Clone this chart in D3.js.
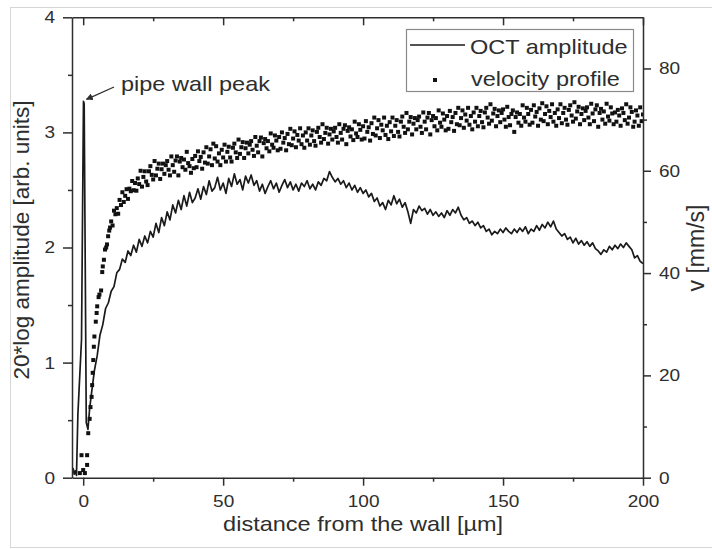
<!DOCTYPE html>
<html>
<head>
<meta charset="utf-8">
<script src="https://cdn.jsdelivr.net/npm/d3@7"></script>
<style>
  body { margin: 0; background: #fff; }
  svg { display: block; }
  text { font-family: "Liberation Sans", Arial, Helvetica, sans-serif; fill: #2e2e2e; }
</style>
</head>
<body>
<svg id="chart" width="712" height="549"></svg>
<script>
// ---- axis ticks ----
const xTicks = [0, 50, 100, 150, 200];
const xMinorTicks = [25, 75, 125, 175];
const ampTicks = [0, 1, 2, 3, 4];
const ampMinorTicks = [0.5, 1.5, 2.5, 3.5];
const velTicks = [0, 20, 40, 60, 80];
const velMinorTicks = [10, 30, 50, 70];

// ---- OCT amplitude (left axis) ----
// samples close to the wall, [distance µm, amplitude]
const octNearWall = [
  [-4, 0.04], [-3.6, 0.08], [-3.2, 0.03], [-2.8, 0.06], [-2.4, 0.02],
  [-1.9, 0.55], [-0.6, 1.2], [0.1, 3.27], [0.35, 3.25], [1.1, 0.48],
  [1.7, 0.42], [2.3, 0.6]
];
// regular depth samples from 3 µm, 1 µm apart
const octStart = 3;
const octStep = 1;
const octValues = [
  0.74, 0.93, 1.06, 1.24, 1.33, 1.47, 1.52, 1.62, 1.66, 1.78,
  1.81, 1.90, 1.87, 1.97, 1.93, 2.02, 1.96, 2.07, 2.01, 2.10,
  2.04, 2.14, 2.09, 2.21, 2.13, 2.26, 2.19, 2.31, 2.24, 2.37,
  2.30, 2.41, 2.33, 2.45, 2.36, 2.48, 2.39, 2.43, 2.51, 2.42,
  2.53, 2.46, 2.58, 2.49, 2.52, 2.61, 2.50, 2.56, 2.47, 2.60,
  2.53, 2.64, 2.55, 2.59, 2.50, 2.62, 2.56, 2.63, 2.54, 2.58,
  2.49, 2.55, 2.47, 2.53, 2.58, 2.51, 2.56, 2.48, 2.54, 2.59,
  2.52, 2.57, 2.50, 2.55, 2.49, 2.56, 2.53, 2.58, 2.51, 2.55,
  2.50, 2.57, 2.54, 2.60, 2.58, 2.66, 2.61, 2.57, 2.60, 2.55,
  2.58, 2.52, 2.56, 2.50, 2.54, 2.48, 2.52, 2.47, 2.50, 2.44,
  2.47, 2.40, 2.43, 2.36, 2.39, 2.33, 2.41, 2.37, 2.45, 2.38,
  2.42, 2.35, 2.39, 2.31, 2.21, 2.33, 2.30, 2.36, 2.32, 2.34,
  2.29, 2.33, 2.28, 2.31, 2.27, 2.30, 2.26, 2.32, 2.28, 2.33,
  2.30, 2.35, 2.28, 2.24, 2.26, 2.21, 2.23, 2.19, 2.22, 2.17,
  2.19, 2.14, 2.16, 2.11, 2.14, 2.12, 2.16, 2.13, 2.17, 2.14,
  2.12, 2.16, 2.13, 2.17, 2.14, 2.18, 2.12, 2.16, 2.14, 2.19,
  2.15, 2.20, 2.17, 2.22, 2.18, 2.23, 2.16, 2.13, 2.10, 2.12,
  2.07, 2.09, 2.04, 2.08, 2.03, 2.06, 2.02, 2.05, 2.01, 2.04,
  1.99, 1.97, 1.94, 1.98, 1.96, 2.01, 1.98, 2.02, 1.99, 2.03,
  2.00, 2.04, 2.01, 1.98, 1.91, 1.93, 1.88, 1.86
];

// ---- velocity profile (right axis, mm/s) ----
const velNearWall = [
  [-1.2, 0.9], [-0.6, 4.4], [0, 1.5], [0.6, 0.9], [1.4, 2.5], [1.4, 4.4],
  [1.8, 8.7], [2.3, 11.5], [2.6, 13.8], [3.0, 15.8], [3.2, 18.1], [3.4, 20.5],
  [3.6, 23.0], [3.8, 25.6], [4.0, 27.6], [4.5, 30.5], [4.8, 32.2], [5.0, 33.5],
  [5.5, 35.3], [5.8, 35.8], [6.4, 36.6], [6.8, 40.2], [7.0, 41.3], [7.4, 42.6],
  [7.8, 44.6], [8.2, 45.0], [8.5, 45.6], [8.9, 47.2], [9.3, 48.3], [9.6, 48.9]
];
// regular samples from 10 µm, 0.5 µm apart (one row = 10 µm)
const velStart = 10;
const velStep = 0.5;
const velValues = [
  50.1, 49.3, 52.2, 51.5, 52.7, 51.6, 54.3, 53.3, 55.8, 53.9, 55.1, 56.4, 54.5, 56.5, 56.0, 58.0, 56.2, 57.6, 56.1, 58.5,
  57.4, 60.0, 56.9, 58.8, 59.9, 57.9, 57.2, 59.9, 60.9, 59.2, 58.3, 61.9, 59.1, 60.4, 61.4, 58.4, 60.3, 61.4, 59.4, 61.1,
  61.9, 60.2, 59.1, 62.8, 61.1, 59.8, 62.0, 62.8, 59.1, 61.8, 62.5, 60.7, 62.2, 60.2, 63.7, 61.5, 60.9, 59.6, 62.3, 60.5,
  62.9, 60.7, 63.8, 61.9, 62.7, 60.4, 63.6, 61.6, 64.6, 61.4, 62.8, 64.2, 61.1, 65.3, 62.4, 64.8, 61.8, 63.4, 61.1, 64.1,
  62.6, 65.1, 61.8, 63.7, 64.7, 62.6, 61.8, 64.5, 65.3, 63.6, 62.5, 66.1, 63.3, 64.6, 65.6, 62.5, 64.4, 65.5, 63.4, 65.1,
  65.8, 64.1, 62.9, 66.6, 64.9, 63.6, 65.8, 66.5, 62.8, 65.4, 66.2, 64.4, 65.8, 63.8, 67.3, 65.1, 64.5, 66.9, 65.9, 64.0,
  66.6, 64.3, 67.5, 65.5, 66.4, 64.0, 67.2, 65.2, 68.2, 65.0, 66.3, 67.7, 64.6, 67.0, 65.9, 68.3, 65.2, 66.9, 64.5, 67.5,
  65.9, 68.3, 65.1, 66.9, 67.9, 65.8, 64.9, 67.6, 68.4, 66.6, 65.5, 69.1, 66.2, 67.4, 68.4, 65.3, 67.1, 68.2, 66.1, 67.7,
  68.4, 66.6, 65.5, 69.1, 67.4, 66.1, 68.2, 68.9, 65.2, 67.8, 68.5, 66.7, 68.1, 66.0, 69.6, 67.3, 66.6, 69.1, 68.0, 66.1,
  68.7, 66.3, 69.7, 67.6, 68.5, 65.9, 69.3, 67.2, 70.4, 66.9, 68.3, 69.9, 66.4, 69.0, 67.9, 70.4, 67.0, 68.8, 66.2, 69.5,
  67.7, 70.4, 66.8, 68.8, 69.9, 67.6, 66.7, 69.6, 70.6, 68.6, 67.4, 71.3, 68.1, 69.6, 70.5, 67.1, 69.2, 70.3, 68.1, 69.9,
  70.6, 68.6, 67.4, 71.4, 69.6, 68.1, 70.4, 71.3, 67.1, 69.9, 70.7, 68.7, 70.3, 67.9, 71.8, 69.4, 68.6, 71.2, 70.0, 67.9,
  70.7, 68.2, 71.7, 69.5, 70.5, 67.8, 71.3, 69.1, 72.3, 68.9, 70.3, 71.8, 68.4, 71.0, 69.8, 72.3, 69.0, 70.7, 68.1, 71.4,
  69.6, 72.3, 68.7, 70.7, 71.7, 69.5, 68.5, 71.4, 72.3, 70.4, 69.2, 73.0, 69.8, 71.2, 72.1, 68.7, 70.7, 71.8, 69.5, 71.3,
  72.0, 70.0, 68.6, 72.5, 70.5, 68.9, 71.1, 71.8, 67.6, 70.5, 71.4, 69.4, 71.1, 68.8, 72.8, 70.4, 69.6, 72.3, 71.1, 69.0,
  71.9, 69.4, 72.8, 70.6, 71.5, 68.8, 72.2, 70.0, 73.2, 69.7, 71.1, 72.6, 69.1, 71.7, 70.5, 73.0, 69.6, 71.3, 68.8, 72.0,
  70.3, 73.0, 69.3, 71.3, 72.3, 70.0, 69.0, 71.9, 72.8, 70.8, 69.6, 73.4, 70.2, 71.6, 72.5, 69.1, 71.1, 72.2, 69.9, 71.7,
  72.4, 70.4, 69.1, 73.1, 71.2, 69.7, 72.0, 72.8, 68.6, 71.3, 72.1, 70.0, 71.6, 69.2, 73.1, 70.6, 69.8, 72.4, 71.2, 69.1,
  71.4, 69.6, 71.9, 70.8, 68.8, 72.2, 71.3, 69.9, 73.0, 69.2, 70.4, 72.4, 71.5, 68.6, 69.6, 71.8, 70.8, 68.8, 72.4, 69.7,
  71.0
];

// ---- text ----
const xTitle = "distance from the wall [µm]";
const yLeftTitle = "20*log amplitude [arb. units]";
const yRightTitle = "v [mm/s]";
const legendLabels = ["OCT amplitude", "velocity profile"];
const peakLabel = "pipe wall peak";

// ---- assemble point lists ----
const octData = octNearWall.concat(octValues.map((v, i) => [octStart + i * octStep, v]));
const velData = velNearWall.concat(velValues.map((v, i) => [velStart + i * velStep, v]));

const svg = d3.select("#chart");
const plot = { left: 72, right: 643, top: 17.3, bottom: 477.7 };
const HS = 1.12;           // horizontal stretch of the lettering
const ink = "#2e2e2e";

// light frame around the figure
svg.append("rect")
  .attr("x", 10.5).attr("y", 7.5).attr("width", 720).attr("height", 540)
  .attr("fill", "none").attr("stroke", "#d6d6d6").attr("stroke-width", 1);

const x = d3.scaleLinear().domain([-4, 200]).range([plot.left, plot.right]);
const yL = d3.scaleLinear().domain([0, 4]).range([plot.bottom, plot.top]);
const yR = d3.scaleLinear().domain([0, 90]).range([plot.bottom, plot.top]);

const tickFont = 17;
const axisStroke = 1.5;

function styleAxis(g) {
  g.attr("color", ink).attr("font-family", null).attr("font-size", null);
  g.selectAll("path.domain").attr("stroke-width", axisStroke);
  g.selectAll(".tick line").attr("stroke-width", axisStroke);
}

// clip region for data marks
svg.append("defs").append("clipPath").attr("id", "plotClip")
  .append("rect")
  .attr("x", plot.left).attr("y", plot.top)
  .attr("width", plot.right - plot.left).attr("height", plot.bottom - plot.top);

// ---- data marks ----
const marks = svg.append("g").attr("clip-path", "url(#plotClip)");

const line = d3.line().x(d => x(d[0])).y(d => yL(d[1]));
marks.append("path")
  .datum(octData)
  .attr("d", line)
  .attr("fill", "none")
  .attr("stroke", "#1a1a1a")
  .attr("stroke-width", 1.7)
  .attr("stroke-linejoin", "round");

const dot = 4;
marks.append("g").selectAll("rect")
  .data(velData)
  .join("rect")
  .attr("x", d => x(d[0]) - dot / 2)
  .attr("y", d => yR(d[1]) - dot / 2)
  .attr("width", dot).attr("height", dot)
  .attr("fill", "#111");

// ---- axes ----
// bottom
const gB = svg.append("g").attr("transform", `translate(0,${plot.bottom})`);
gB.call(d3.axisBottom(x).tickValues(xTicks).tickSizeInner(8).tickSizeOuter(0).tickPadding(9));
styleAxis(gB);
gB.selectAll("text").style("font-size", tickFont + "px").attr("transform", `scale(${HS},1)`);
const gBm = svg.append("g").attr("transform", `translate(0,${plot.bottom})`);
gBm.call(d3.axisBottom(x).tickValues(xMinorTicks).tickSizeInner(4).tickSizeOuter(0).tickFormat(""));
styleAxis(gBm);
gBm.select("path.domain").remove();

// top (inward ticks, no labels)
const gT = svg.append("g").attr("transform", `translate(0,${plot.top})`);
gT.call(d3.axisTop(x).tickValues(xTicks).tickSizeInner(-8).tickSizeOuter(0).tickFormat(""));
styleAxis(gT);
const gTm = svg.append("g").attr("transform", `translate(0,${plot.top})`);
gTm.call(d3.axisTop(x).tickValues(xMinorTicks).tickSizeInner(-4).tickSizeOuter(0).tickFormat(""));
styleAxis(gTm);
gTm.select("path.domain").remove();

// left
const gL = svg.append("g").attr("transform", `translate(${plot.left},0)`);
gL.call(d3.axisLeft(yL).tickValues(ampTicks).tickSizeInner(9).tickSizeOuter(0).tickPadding(8).tickFormat(d3.format("d")));
styleAxis(gL);
gL.selectAll("text").style("font-size", tickFont + "px")
  .attr("x", -17 / HS).attr("transform", `scale(${HS},1)`);
const gLm = svg.append("g").attr("transform", `translate(${plot.left},0)`);
gLm.call(d3.axisLeft(yL).tickValues(ampMinorTicks).tickSizeInner(4).tickSizeOuter(0).tickFormat(""));
styleAxis(gLm);
gLm.select("path.domain").remove();

// right
const gR = svg.append("g").attr("transform", `translate(${plot.right},0)`);
gR.call(d3.axisRight(yR).tickValues(velTicks).tickSizeInner(8).tickSizeOuter(0).tickPadding(8).tickFormat(d3.format("d")));
styleAxis(gR);
gR.selectAll("text").style("font-size", tickFont + "px")
  .attr("x", 16 / HS).attr("transform", `scale(${HS},1)`);
const gRm = svg.append("g").attr("transform", `translate(${plot.right},0)`);
gRm.call(d3.axisRight(yR).tickValues(velMinorTicks).tickSizeInner(4).tickSizeOuter(0).tickFormat(""));
styleAxis(gRm);
gRm.select("path.domain").remove();

// ---- axis titles ----
svg.append("text")
  .attr("transform", `translate(${(x(0) + x(200)) / 2},531) scale(${HS},1)`)
  .attr("text-anchor", "middle")
  .style("font-size", "21px")
  .text(xTitle);

svg.append("text")
  .attr("transform", "translate(29,240) rotate(-90)")
  .attr("text-anchor", "middle")
  .style("font-size", "22.5px")
  .text(yLeftTitle);

svg.append("text")
  .attr("transform", "translate(704,248) rotate(-90)")
  .attr("text-anchor", "middle")
  .style("font-size", "23px")
  .text(yRightTitle);

// ---- legend ----
const lg = svg.append("g");
lg.append("rect")
  .attr("x", 406.5).attr("y", 29.5).attr("width", 227).attr("height", 62)
  .attr("fill", "#fff").attr("stroke", "#8a8a8a").attr("stroke-width", 1.2);
lg.append("line")
  .attr("x1", 410).attr("x2", 465).attr("y1", 45).attr("y2", 45)
  .attr("stroke", "#1a1a1a").attr("stroke-width", 1.7);
lg.append("rect")
  .attr("x", 435 - dot / 2).attr("y", 80 - dot / 2).attr("width", dot).attr("height", dot)
  .attr("fill", "#111");
lg.append("text")
  .attr("transform", `translate(470,53.5) scale(${HS},1)`)
  .style("font-size", "21px")
  .text(legendLabels[0]);
lg.append("text")
  .attr("transform", `translate(471,86) scale(${HS},1)`)
  .style("font-size", "21px")
  .text(legendLabels[1]);

// ---- peak annotation ----
const peak = octData.reduce((a, b) => (b[1] > a[1] ? b : a));
const tipX = x(peak[0]) + 3, tipY = yL(peak[1]) - 2;
svg.append("defs").append("marker")
  .attr("id", "arrowHead")
  .attr("viewBox", "0 0 10 10").attr("refX", 9).attr("refY", 5)
  .attr("markerWidth", 7).attr("markerHeight", 7)
  .attr("markerUnits", "userSpaceOnUse")
  .attr("orient", "auto")
  .append("path").attr("d", "M0,0 L10,5 L0,10 Z").attr("fill", ink);
svg.append("line")
  .attr("x1", 114).attr("y1", 87).attr("x2", tipX).attr("y2", tipY)
  .attr("stroke", ink).attr("stroke-width", 1.3)
  .attr("marker-end", "url(#arrowHead)");
svg.append("text")
  .attr("transform", `translate(121,91) scale(${HS},1)`)
  .style("font-size", "21px")
  .text(peakLabel);
</script>
</body>
</html>
